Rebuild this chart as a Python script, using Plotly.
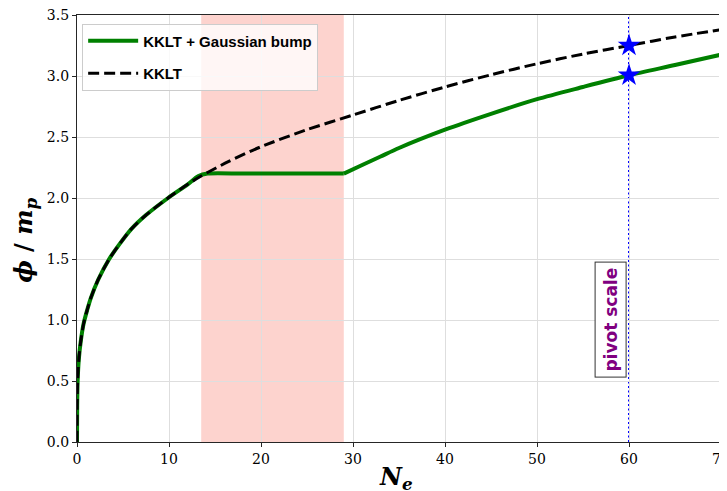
import plotly.graph_objects as go

# KKLT curve
kklt_N = [0, 0.02, 0.07, 0.2, 0.4, 0.72, 1.1, 1.5, 2.3, 3.5, 4.7, 5.9, 7.5, 9.9, 12, 13.5, 16.5, 20, 25, 30, 35, 40, 45, 50, 55, 60, 65, 70]
kklt_phi = [0, 0.3, 0.5, 0.68, 0.82, 0.97, 1.08, 1.18, 1.33, 1.5, 1.63, 1.745, 1.86, 2.0, 2.11, 2.18, 2.30, 2.42, 2.56, 2.68, 2.80, 2.91, 3.01, 3.10, 3.18, 3.25, 3.32, 3.38]

# KKLT + Gaussian bump: up to end of plateau, then after it
bump_N_a = [0, 0.02, 0.07, 0.2, 0.4, 0.72, 1.1, 1.5, 2.3, 3.5, 4.7, 5.9, 7.5, 9.9, 12, 13.2, 14.2, 18, 22, 26, 29]
bump_phi_a = [0, 0.3, 0.5, 0.68, 0.82, 0.97, 1.08, 1.18, 1.33, 1.5, 1.63, 1.745, 1.86, 2.0, 2.11, 2.18, 2.2, 2.2, 2.2, 2.2, 2.2]
bump_N_b = [29, 31, 33, 35, 40, 45, 50, 55, 60, 65, 70]
bump_phi_b = [2.2, 2.27, 2.34, 2.41, 2.56, 2.69, 2.81, 2.91, 3.006, 3.09, 3.175]

# plateau region and pivot scale
band = [13.5, 29.0]
pivot_N = 60
pivot_phi = [3.25, 3.006]

x_ticks = [0, 10, 20, 30, 40, 50, 60, 70]
y_ticks = [0.0, 0.5, 1.0, 1.5, 2.0, 2.5, 3.0, 3.5]

fig = go.Figure()

fig.add_trace(go.Scatter(
    x=bump_N_a, y=bump_phi_a, mode="lines", name="KKLT + Gaussian bump", legendgroup="bump",
    line=dict(color="#008000", width=4, shape="spline", smoothing=0.8),
))
fig.add_trace(go.Scatter(
    x=bump_N_b, y=bump_phi_b, mode="lines", name="KKLT + Gaussian bump", legendgroup="bump",
    showlegend=False, line=dict(color="#008000", width=4, shape="spline", smoothing=0.8),
))
fig.add_trace(go.Scatter(
    x=kklt_N, y=kklt_phi, mode="lines", name="KKLT",
    line=dict(color="black", width=3, dash="11px,5px", shape="spline", smoothing=0.8),
))
fig.add_trace(go.Scatter(
    x=[pivot_N] * len(pivot_phi), y=pivot_phi, mode="markers", showlegend=False,
    marker=dict(symbol="star", size=17, color="#0000ff", line=dict(width=0)),
))

fig.add_shape(type="rect", xref="x", yref="paper", x0=band[0], x1=band[1], y0=0, y1=1,
              fillcolor="rgba(250,128,114,0.35)", line=dict(width=0), layer="below")
fig.add_shape(type="line", xref="x", yref="paper", x0=pivot_N, x1=pivot_N, y0=0, y1=1,
              line=dict(color="#0000ff", width=2, dash="2px,2.5px"), layer="between")

fig.add_annotation(x=58.0, y=1.0, xref="x", yref="y", text="<b>pivot scale</b>", textangle=-90,
                   showarrow=False, font=dict(family="DejaVu Sans", size=17, color="#800080"),
                   bgcolor="white", bordercolor="#333333", borderwidth=1, borderpad=5)

# axis titles
fig.add_annotation(x=0.495, y=-0.085, xref="paper", yref="paper", xanchor="center", yanchor="middle",
                   text="<b><i>N</i></b><sub><b><i>e</i></b></sub>", showarrow=False,
                   font=dict(family="DejaVu Serif", size=24, color="black"))
fig.add_annotation(x=-0.081, y=0.473, xref="paper", yref="paper", xanchor="center", yanchor="middle",
                   text="<b><i>ϕ</i> / <i>m</i></b><sub><b><i>p</i></b></sub>", showarrow=False, textangle=-90,
                   font=dict(family="DejaVu Serif", size=24, color="black"))

# page body has an 8px margin, so the figure is sized/offset to fill the 727x491 window
fig.update_layout(
    width=719, height=483,
    margin=dict(l=69, r=6, t=7, b=49),
    plot_bgcolor="white", paper_bgcolor="white",
    showlegend=True,
    legend=dict(x=0.008, y=0.98, xanchor="left", yanchor="top",
                bgcolor="rgba(255,255,255,0.8)", bordercolor="#cccccc", borderwidth=1,
                font=dict(family="Liberation Sans", size=15, color="black", weight="bold"),
                itemwidth=50),
    font=dict(family="DejaVu Serif", size=14, color="black"),
)

fig.update_xaxes(
    range=[0, 70], tickvals=x_ticks, ticktext=[str(v) for v in x_ticks],
    showgrid=True, gridcolor="#dedede", gridwidth=1, zeroline=False,
    showline=True, linecolor="#262626", linewidth=1.2, mirror=True,
    ticks="outside", ticklen=4, tickcolor="#262626", automargin=False,
    ticklabeloverflow="allow",
    tickfont=dict(family="DejaVu Serif", size=14),
)
fig.update_yaxes(
    range=[0, 3.5], tickvals=y_ticks, ticktext=[f"{v:.1f}" for v in y_ticks],
    showgrid=True, gridcolor="#dedede", gridwidth=1, zeroline=False,
    showline=True, linecolor="#262626", linewidth=1.2, mirror=True,
    ticks="outside", ticklen=4, tickcolor="#262626", automargin=False,
    ticklabeloverflow="allow",
    tickfont=dict(family="DejaVu Serif", size=14),
)

fig.write_html("out.html")
